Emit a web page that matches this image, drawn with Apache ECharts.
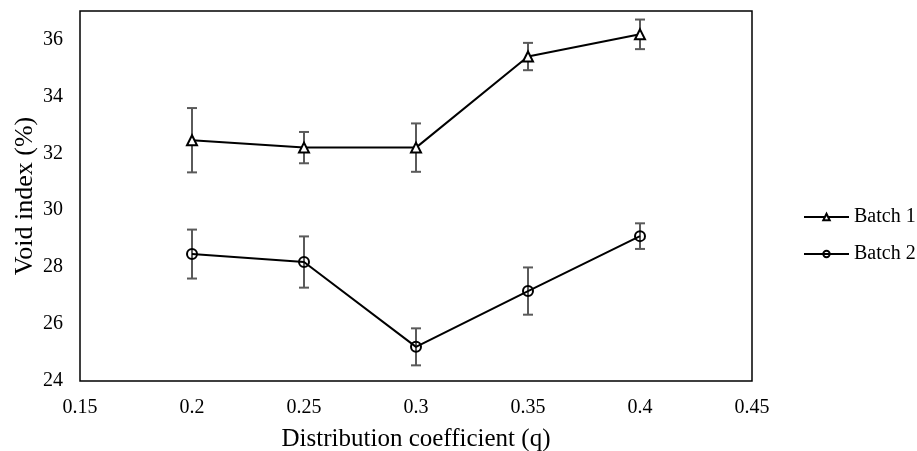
<!DOCTYPE html>
<html>
<head>
<meta charset="utf-8">
<script src="https://cdn.jsdelivr.net/npm/echarts@6/dist/echarts.min.js"></script>
<style>html,body{margin:0;padding:0;background:#fff}#c{width:917px;height:451px}</style>
</head>
<body>
<div id="c"></div>
<script>
const qValues = [0.2, 0.25, 0.3, 0.35, 0.4];
const batch1 = [32.46, 32.2, 32.2, 35.4, 36.18];
const batch1Err = [1.13, 0.55, 0.85, 0.48, 0.52];
const batch2 = [28.46, 28.18, 25.2, 27.16, 29.09];
const batch2Err = [0.86, 0.9, 0.65, 0.83, 0.45];
const seriesNames = ['Batch 1', 'Batch 2'];

const font = 'Liberation Serif, Times New Roman, serif';
const chart = echarts.init(document.getElementById('c'), null, {renderer: 'canvas'});

function errData(vals, errs) {
  return qValues.map((q, i) => [q, vals[i] - errs[i], vals[i] + errs[i]]);
}
function errRender(params, api) {
  const x = api.value(0);
  const lo = api.coord([x, api.value(1)]);
  const hi = api.coord([x, api.value(2)]);
  const hw = 5;
  const st = {stroke: '#5a5a5a', lineWidth: 2};
  return {
    type: 'group',
    children: [
      {type: 'line', shape: {x1: lo[0], y1: lo[1], x2: hi[0], y2: hi[1]}, style: st},
      {type: 'line', shape: {x1: lo[0] - hw, y1: lo[1], x2: lo[0] + hw, y2: lo[1]}, style: st},
      {type: 'line', shape: {x1: hi[0] - hw, y1: hi[1], x2: hi[0] + hw, y2: hi[1]}, style: st}
    ]
  };
}

chart.setOption({
  animation: false,
  grid: {left: 80, top: 11, right: 165, bottom: 70, show: true, borderColor: '#000', borderWidth: 1.5,
    backgroundColor: 'transparent', containLabel: false, outerBoundsMode: 'none'},
  legend: {
    orient: 'vertical', left: 803, top: 207, padding: 0, itemWidth: 45, itemHeight: 8, itemGap: 17,
    textStyle: {fontFamily: font, fontSize: 20, color: '#000'},
    data: seriesNames
  },
  xAxis: {
    type: 'value', min: 0.15, max: 0.45, interval: 0.05,
    name: 'Distribution coefficient (q)', nameLocation: 'middle', nameGap: 46, nameMoveOverlap: false,
    nameTextStyle: {fontFamily: font, fontSize: 25, color: '#000'},
    axisLine: {show: false}, axisTick: {show: false}, splitLine: {show: false},
    axisLabel: {fontFamily: font, fontSize: 20, color: '#000', margin: 17, formatter: v => String(+v.toFixed(2))}
  },
  yAxis: {
    type: 'value', min: 24, max: 37, interval: 2,
    name: 'Void index (%)', nameLocation: 'middle', nameGap: 42, nameMoveOverlap: false,
    nameTextStyle: {fontFamily: font, fontSize: 26, color: '#000'},
    axisLine: {show: false}, axisTick: {show: false}, splitLine: {show: false},
    axisLabel: {fontFamily: font, fontSize: 20, color: '#000', margin: 17, showMaxLabel: false}
  },
  series: [
    {type: 'custom', renderItem: errRender, data: errData(batch1, batch1Err), encode: {x: 0, y: [1, 2]}, silent: true, z: 1},
    {type: 'custom', renderItem: errRender, data: errData(batch2, batch2Err), encode: {x: 0, y: [1, 2]}, silent: true, z: 1},
    {name: seriesNames[0], type: 'line', data: qValues.map((q, i) => [q, batch1[i]]),
      symbol: 'triangle', symbolSize: 10, showAllSymbol: true,
      lineStyle: {color: '#000', width: 2}, itemStyle: {color: '#fff', borderColor: '#000', borderWidth: 2}, z: 3},
    {name: seriesNames[1], type: 'line', data: qValues.map((q, i) => [q, batch2[i]]),
      symbol: 'circle', symbolSize: 10, showAllSymbol: true,
      lineStyle: {color: '#000', width: 2}, itemStyle: {color: 'transparent', borderColor: '#000', borderWidth: 2}, z: 3}
  ]
});
</script>
</body>
</html>
